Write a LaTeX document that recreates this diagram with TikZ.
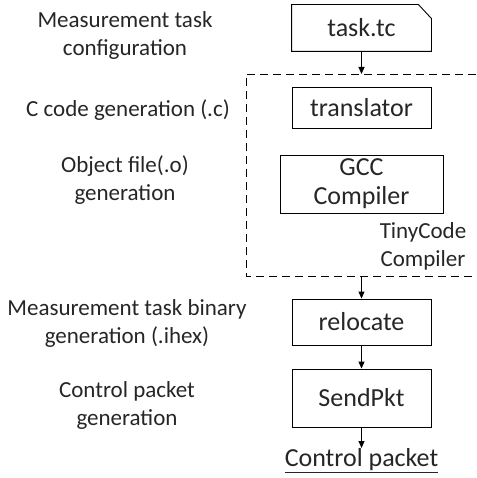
\documentclass[tikz,border=0pt]{standalone}
\usepackage{fontspec}
\setmainfont{Carlito}
\usepackage{tikz}
\usetikzlibrary{arrows.meta}
\definecolor{txt}{rgb}{0.15,0.15,0.15}

\tikzset{
    lbl/.style={align=center, text=txt, font=\fontsize{23}{28}\selectfont},
    blk/.style={draw=black, line width=0.9pt, align=center, text=txt, font=\fontsize{26}{29}\selectfont, inner sep=0pt},
    arr/.style={-{Triangle[length=7pt,width=6pt]}, line width=0.9pt},
    frame/.style={dashed, dash pattern=on 8pt off 5pt, line width=0.9pt}
}

\begin{document}
\begin{tikzpicture}[x=1pt,y=-1pt]
    \useasboundingbox (0,0) rectangle (476,478);

    % draw left labels
    \node[lbl] (lconf) at (125,35) {Measurement task\\configuration};
    \node[lbl] (lcode) at (128,110) {C code generation (.c)};
    \node[lbl] (lobj) at (125,180) {Object file(.o)\\generation};
    \node[lbl] (lbin) at (127,323) {Measurement task binary\\generation (.ihex)};
    \node[lbl] (lpkt) at (127,405) {Control packet\\generation};

    % draw task file with folded corner
    \node[blk, draw=none, minimum width=139pt, minimum height=46pt] (task) at (361.5,28) {task.tc};
    \draw[line width=0.9pt] (task.south west) -- (task.north west) -- ([xshift=-13pt]task.north east)
        -- ([yshift=-14pt]task.north east) -- (task.south east) -- cycle;

    % draw compiler frame
    \coordinate (ftop) at (361.5,74);
    \coordinate (fbot) at (361.5,276);
    \draw[frame] (476,74) -- (246,74) -- (246,276) -- (476,276);
    \node[blk, minimum width=139pt, minimum height=41pt] (trans) at (361.5,107.5) {translator};
    \node[blk, minimum width=163pt, minimum height=58pt] (gcc) at (361.5,184) {GCC\\Compiler};
    \node[lbl] (tiny) at (423,246) {TinyCode\\Compiler};

    % draw remaining steps
    \node[blk, minimum width=139pt, minimum height=46pt] (reloc) at (361.5,322) {relocate};
    \node[blk, minimum width=139pt, minimum height=58pt] (send) at (361.5,398) {SendPkt};
    \node[blk, draw=none, anchor=north] (pkt) at (361.5,448) {\underline{Control packet}};

    % draw arrows
    \draw[arr] (task.south) -- (ftop);
    \draw[arr] (fbot) -- (reloc.north);
    \draw[arr] (reloc.south) -- (send.north);
    \draw[arr] (send.south) -- (pkt.north);
\end{tikzpicture}
\end{document}
